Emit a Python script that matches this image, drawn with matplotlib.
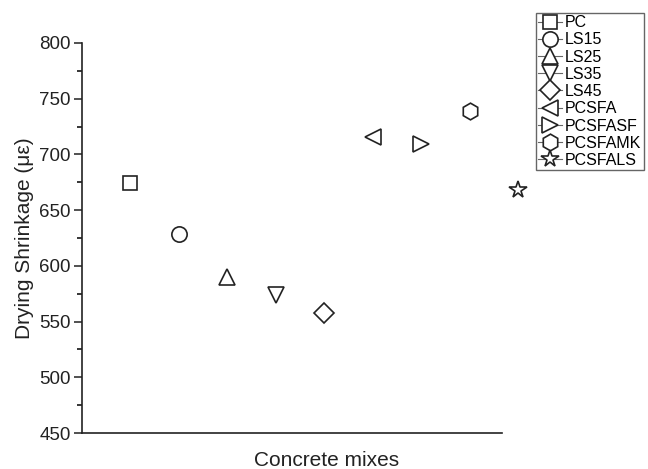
import matplotlib.pyplot as plt
from matplotlib.lines import Line2D

# data
mixes = ['PC', 'LS15', 'LS25', 'LS35', 'LS45', 'PCSFA', 'PCSFASF', 'PCSFAMK', 'PCSFALS']
shrinkage = [674, 629, 590, 574, 558, 716, 709, 739, 668]
markers = ['s', 'o', '^', 'v', 'D', '<', '>', 'h', '*']
sizes = [10, 11, 12, 12, 10, 12, 12, 12, 13]

plt.rcParams['font.family'] = ['Liberation Sans', 'DejaVu Sans']

fig = plt.figure(figsize=(6.48, 4.69), dpi=100)
ax = fig.add_axes([82 / 648, 36 / 469, (644 - 82) / 648, 390 / 469])

pos = list(range(1, len(mixes) + 1))
for x, y, m, s in zip(pos, shrinkage, markers, sizes):
    ax.plot(x, y, marker=m, markersize=s, markerfacecolor='white',
            markeredgecolor='#222222', markeredgewidth=1.2, linestyle='none',
            clip_on=False)

ax.set_xlim(0, 11.59)
ax.set_ylim(450, 800)
ax.set_yticks(range(450, 801, 50))
ax.set_yticks(range(475, 800, 50), minor=True)
ax.set_xticks([])
ax.spines['top'].set_visible(False)
ax.spines['right'].set_visible(False)
ax.spines['bottom'].set_bounds(0, 8.66)
for sp in ('left', 'bottom'):
    ax.spines[sp].set_linewidth(1.2)
    ax.spines[sp].set_color('#222222')
ax.tick_params(axis='y', which='major', length=6, width=1.1, labelsize=13.5,
               colors='#222222', pad=2)
ax.tick_params(axis='y', which='minor', length=3.5, width=1.1)

ax.set_ylabel('Drying Shrinkage (με)', fontsize=15, color='#222222', labelpad=4)
ax.set_xlabel('Concrete mixes', fontsize=15, color='#222222', labelpad=14)
ax.xaxis.set_label_coords(0.436, -0.045, transform=ax.transAxes)
ax.xaxis.label.set_va('top')

handles = [Line2D([], [], color='#666666', linewidth=0.8, marker=m, markersize=s,
                  markerfacecolor='white', markeredgecolor='#222222', markeredgewidth=1.2)
           for m, s in zip(markers, sizes)]
leg = fig.legend(handles, mixes, loc='upper right', bbox_to_anchor=(644 / 648, 1 - 12.7 / 469),
                 borderaxespad=0, fancybox=False, fontsize=11.5, handlelength=1.5,
                 handletextpad=0.2, labelspacing=0.14, borderpad=0.15, framealpha=1)
leg.get_frame().set_edgecolor('#666666')
leg.get_frame().set_linewidth(1.0)

fig.savefig('out.png', dpi=100)
